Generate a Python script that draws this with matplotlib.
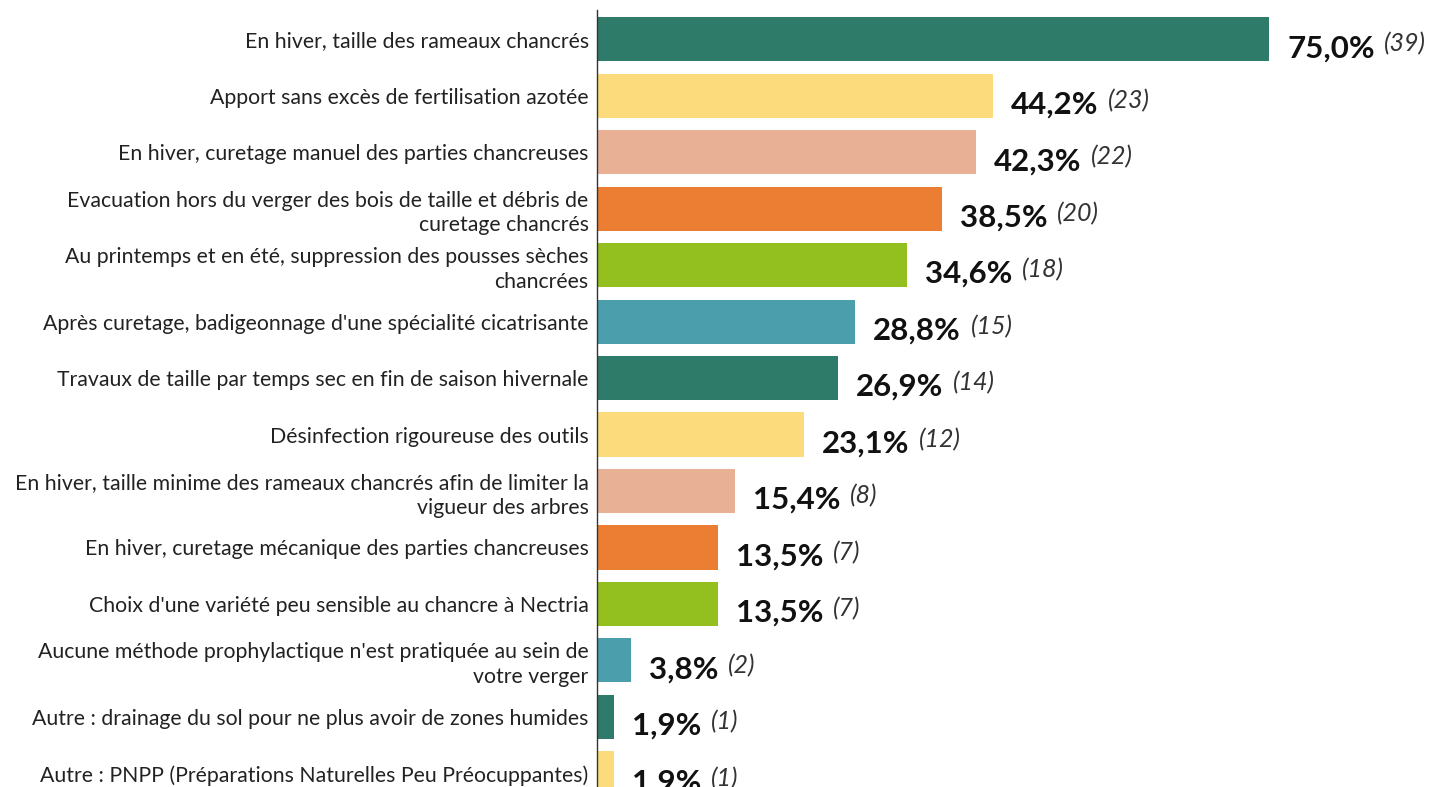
import matplotlib
matplotlib.use('Agg')
import matplotlib.pyplot as plt

labels = [
    'En hiver, taille des rameaux chancrés',
    'Apport sans excès de fertilisation azotée',
    'En hiver, curetage manuel des parties chancreuses',
    'Evacuation hors du verger des bois de taille et débris de\ncuretage chancrés',
    'Au printemps et en été, suppression des pousses sèches\nchancrées',
    "Après curetage, badigeonnage d'une spécialité cicatrisante",
    'Travaux de taille par temps sec en fin de saison hivernale',
    'Désinfection rigoureuse des outils',
    'En hiver, taille minime des rameaux chancrés afin de limiter la\nvigueur des arbres',
    'En hiver, curetage mécanique des parties chancreuses',
    "Choix d'une variété peu sensible au chancre à Nectria",
    "Aucune méthode prophylactique n'est pratiquée au sein de\nvotre verger",
    'Autre : drainage du sol pour ne plus avoir de zones humides',
    'Autre : PNPP (Préparations Naturelles Peu Préocuppantes)',
]
percents = [75.0, 44.2, 42.3, 38.5, 34.6, 28.8, 26.9, 23.1, 15.4, 13.5, 13.5, 3.8, 1.9, 1.9]
counts = [39, 23, 22, 20, 18, 15, 14, 12, 8, 7, 7, 2, 1, 1]

palette = ['#2e7b6a', '#fcdb7c', '#e8b196', '#ec7e33', '#93c01f', '#4b9eab']
colors = [palette[i % len(palette)] for i in range(len(labels))]

W, H = 1439, 787
fig = plt.figure(figsize=(W / 100, H / 100), dpi=100)
ax = fig.add_axes([597 / W, 0, 1 - 597 / W, 777 / H])

ypos = list(range(len(labels)))
ax.barh(ypos, percents, height=0.78, color=colors)

ax.set_xlim(0, (W - 597) / 8.96)
ax.set_ylim(13.24, -0.515)
ax.set_xticks([])
ax.set_yticks(ypos)
ax.set_yticklabels(labels, fontsize=15.3, family='Lato', color='#222222',
                   linespacing=1.3)
ax.tick_params(axis='y', length=0, pad=6)
for s in ['top', 'right', 'bottom']:
    ax.spines[s].set_visible(False)
ax.spines['left'].set_color('#333333')
ax.spines['left'].set_linewidth(1.0)

for y, p, c in zip(ypos, percents, counts):
    t = ax.annotate(f'{p:.1f}%'.replace('.', ','), xy=(p, y), xytext=(13, -6.5),
                    textcoords='offset points', ha='left', va='center',
                    fontsize=22.5, fontweight='bold', family='Lato', color='#111111')
    ax.annotate(f'({c})', xy=(1, 0.5), xycoords=t, xytext=(7, 3),
                textcoords='offset points', ha='left', va='center',
                fontsize=18, style='italic', family='Lato', color='#333333')

fig.savefig('out.png', dpi=100)
